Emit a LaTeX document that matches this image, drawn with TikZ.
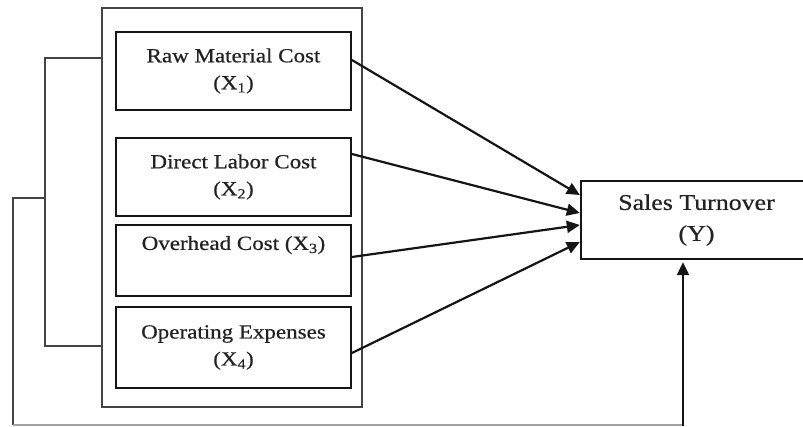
\documentclass[tikz,border=0pt]{standalone}
\usepackage{fontspec}
\usetikzlibrary{arrows.meta,calc}
\newfontfamily\bodyfont[FakeStretch=1.15,FakeBold=0.6]{Liberation Serif}
\definecolor{ink}{HTML}{151515}
\definecolor{txtc}{HTML}{222222}
\definecolor{grpc}{HTML}{444444}
\tikzset{
  varbox/.style={draw=ink, line width=1.8pt, minimum width=235pt, align=center,
    text=txtc, font=\bodyfont\fontsize{20}{27}\selectfont, inner sep=0pt},
  grpbox/.style={draw=grpc, line width=2.4pt, minimum width=260pt, minimum height=399pt, inner sep=0pt},
  ybox/.style={draw=none, minimum width=231pt, minimum height=78pt, align=center,
    text=txtc, font=\bodyfont\fontsize{22.5}{31}\selectfont, inner sep=0pt},
  arr/.style={draw=ink, line width=2.2pt, -{Triangle[length=13pt,width=12pt]}},
  brk/.style={draw=grpc, line width=1.8pt},
}
\begin{document}
\begin{tikzpicture}[x=1pt,y=-1pt]
\useasboundingbox (0,0) rectangle (803,427);
\node[grpbox] (grp) at (232,207.5) {};
\node[varbox, minimum height=78pt] (b1) at (233.5,71) {Raw Material Cost\\(X\textsubscript{1})};
\node[varbox, minimum height=78pt] (b2) at (233.5,177) {Direct Labor Cost\\(X\textsubscript{2})};
\node[varbox, minimum height=71pt] (b3) at (233.5,260.5) {Overhead Cost (X\textsubscript{3})\\\strut};
\node[varbox, minimum height=81pt] (b4) at (233.5,347.5) {Operating Expenses\\(X\textsubscript{4})};
\node[ybox] (Y) at (696.5,220) {Sales Turnover\\(Y)};
\draw[draw=ink, line width=1.8pt] ([xshift=40pt]Y.north east) -- (Y.north west) -- (Y.south west) -- ([xshift=40pt]Y.south east);
\draw[arr] ([yshift=11pt]b1.east) -- ([yshift=25pt,xshift=-1pt]Y.west);
\draw[arr] ([yshift=23pt]b2.east) -- ([yshift=7pt,xshift=-1pt]Y.west);
\draw[arr] ([yshift=3.5pt]b3.east) -- ([yshift=-5pt,xshift=-1pt]Y.west);
\draw[arr] ([yshift=-5.5pt]b4.east) -- ([yshift=-22pt,xshift=-1pt]Y.west);
\draw[brk] ([yshift=149.5pt]grp.west) -- ++(-56,0) coordinate (kt) |- ([yshift=-138.5pt]grp.west);
\coordinate (m) at (kt |- 0,198);
\coordinate (c) at (13,425);
\draw[brk] (m) -| (c);
\draw[draw=grpc!50, line width=1.2pt] (c) -- (683,425);
\draw[arr] (683,425.6) -- ([xshift=-13.5pt,yshift=-3pt]Y.south);
\end{tikzpicture}
\end{document}
